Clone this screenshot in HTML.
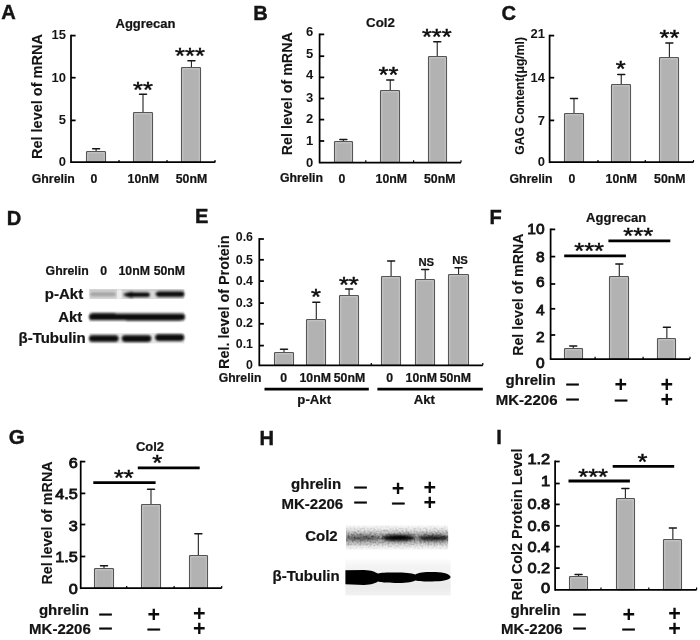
<!DOCTYPE html>
<html lang="en">
<head>
<meta charset="utf-8">
<title>Figure</title>
<style>
html,body{margin:0;padding:0;background:#fff;}
body{width:700px;height:640px;overflow:hidden;}
svg{display:block;font-family:"Liberation Sans", sans-serif;}
</style>
</head>
<body>
<svg width="700" height="640" viewBox="0 0 700 640" role="img" aria-label="Figure panels A to I">
<defs>
<filter id="b1" x="-10%" y="-30%" width="120%" height="160%"><feGaussianBlur stdDeviation="0.7"/></filter>
<filter id="b2" x="-10%" y="-50%" width="120%" height="200%"><feGaussianBlur stdDeviation="2"/></filter>
<filter id="b4" x="-10%" y="-100%" width="120%" height="300%"><feGaussianBlur stdDeviation="1.6"/></filter>
<filter id="noise" x="0" y="0" width="100%" height="100%"><feTurbulence type="fractalNoise" baseFrequency="0.5" numOctaves="2" seed="7"/><feColorMatrix type="matrix" values="0 0 0 0 0  0 0 0 0 0  0 0 0 0 0  0 0 0 1.1 -0.42"/><feGaussianBlur stdDeviation="0.45"/></filter>
<linearGradient id="gcol2" x1="0" y1="0" x2="0" y2="1"><stop offset="0" stop-color="#ffffff"/><stop offset="0.18" stop-color="#ececec"/><stop offset="0.36" stop-color="#bcbcbc"/><stop offset="0.52" stop-color="#9c9c9c"/><stop offset="0.68" stop-color="#bcbcbc"/><stop offset="0.85" stop-color="#ececec"/><stop offset="1" stop-color="#ffffff"/></linearGradient>
<linearGradient id="gmask" x1="0" y1="0" x2="0" y2="1"><stop offset="0" stop-color="#000"/><stop offset="0.5" stop-color="#fff"/><stop offset="1" stop-color="#000"/></linearGradient>
<mask id="mcol2" maskUnits="userSpaceOnUse" x="346" y="524.5" width="102.4" height="26"><rect x="346" y="524.5" width="102.4" height="26" fill="url(#gmask)"/></mask>
<linearGradient id="gtub" x1="0" y1="0" x2="0" y2="1"><stop offset="0" stop-color="#fbfbfb"/><stop offset="0.2" stop-color="#f3f3f3"/><stop offset="0.75" stop-color="#ebebeb"/><stop offset="1" stop-color="#f1f1f1"/></linearGradient>
<filter id="b3" x="-10%" y="-30%" width="120%" height="160%"><feGaussianBlur stdDeviation="0.85"/></filter>
</defs>
<rect width="700" height="640" fill="#ffffff"/>
<text x="1.30" y="18.90" font-size="20.1" font-weight="bold" text-anchor="start" fill="#141414" stroke="#141414" stroke-width="0.4">A</text>
<text x="253.30" y="19.60" font-size="20.1" font-weight="bold" text-anchor="start" fill="#141414" stroke="#141414" stroke-width="0.4">B</text>
<text x="501.50" y="19.60" font-size="20.1" font-weight="bold" text-anchor="start" fill="#141414" stroke="#141414" stroke-width="0.4">C</text>
<text x="6.70" y="224.80" font-size="20.1" font-weight="bold" text-anchor="start" fill="#141414" stroke="#141414" stroke-width="0.4">D</text>
<text x="195.10" y="223.20" font-size="20.1" font-weight="bold" text-anchor="start" fill="#141414" stroke="#141414" stroke-width="0.4">E</text>
<text x="489.40" y="224.30" font-size="20.1" font-weight="bold" text-anchor="start" fill="#141414" stroke="#141414" stroke-width="0.4">F</text>
<text x="8.70" y="443.90" font-size="20.6" font-weight="bold" text-anchor="start" fill="#141414" stroke="#141414" stroke-width="0.4">G</text>
<text x="259.50" y="444.80" font-size="20.1" font-weight="bold" text-anchor="start" fill="#141414" stroke="#141414" stroke-width="0.4">H</text>
<text x="496.30" y="444.30" font-size="20.1" font-weight="bold" text-anchor="start" fill="#141414" stroke="#141414" stroke-width="0.4">I</text>
<line x1="96.10" y1="148.80" x2="96.10" y2="151.70" stroke="#2a2a2a" stroke-width="1.15" stroke-linecap="butt"/>
<line x1="92.60" y1="148.80" x2="99.60" y2="148.80" stroke="#161616" stroke-width="1.5" stroke-linecap="round"/>
<rect x="86.50" y="151.50" width="19.00" height="10.70" rx="0.8" fill="#b2b2b2" stroke="#555555" stroke-width="1.1"/>
<path d="M87.80 161.20 V152.80 H104.20 V161.20" fill="none" stroke="#c9c9c9" stroke-width="0.9"/>
<line x1="143.00" y1="94.20" x2="143.00" y2="112.30" stroke="#2a2a2a" stroke-width="1.15" stroke-linecap="butt"/>
<line x1="139.50" y1="94.20" x2="146.50" y2="94.20" stroke="#161616" stroke-width="1.5" stroke-linecap="round"/>
<rect x="133.50" y="112.50" width="19.00" height="49.70" rx="0.8" fill="#b2b2b2" stroke="#555555" stroke-width="1.1"/>
<path d="M134.80 161.20 V113.80 H151.20 V161.20" fill="none" stroke="#c9c9c9" stroke-width="0.9"/>
<line x1="191.45" y1="60.70" x2="191.45" y2="67.40" stroke="#2a2a2a" stroke-width="1.15" stroke-linecap="butt"/>
<line x1="187.95" y1="60.70" x2="194.95" y2="60.70" stroke="#161616" stroke-width="1.5" stroke-linecap="round"/>
<rect x="181.50" y="67.50" width="19.00" height="94.70" rx="0.8" fill="#b2b2b2" stroke="#555555" stroke-width="1.1"/>
<path d="M182.80 161.20 V68.80 H199.20 V161.20" fill="none" stroke="#c9c9c9" stroke-width="0.9"/>
<line x1="71.00" y1="34.73" x2="71.00" y2="163.07" stroke="#000" stroke-width="1.75" stroke-linecap="butt"/>
<line x1="71.00" y1="162.20" x2="215.30" y2="162.20" stroke="#000" stroke-width="1.75" stroke-linecap="butt"/>
<line x1="71.00" y1="35.60" x2="75.60" y2="35.60" stroke="#000" stroke-width="1.75" stroke-linecap="butt"/>
<text x="65.90" y="38.67" font-size="13" font-weight="bold" text-anchor="end" fill="#141414" stroke="#141414" stroke-width="0.0">15</text>
<line x1="71.00" y1="77.70" x2="75.60" y2="77.70" stroke="#000" stroke-width="1.75" stroke-linecap="butt"/>
<text x="65.90" y="81.77" font-size="13" font-weight="bold" text-anchor="end" fill="#141414" stroke="#141414" stroke-width="0.0">10</text>
<line x1="71.00" y1="120.40" x2="75.60" y2="120.40" stroke="#000" stroke-width="1.75" stroke-linecap="butt"/>
<text x="65.90" y="124.27" font-size="13" font-weight="bold" text-anchor="end" fill="#141414" stroke="#141414" stroke-width="0.0">5</text>
<text x="65.90" y="166.27" font-size="13" font-weight="bold" text-anchor="end" fill="#141414" stroke="#141414" stroke-width="0.0">0</text>
<line x1="119.00" y1="162.20" x2="119.00" y2="160.00" stroke="#000" stroke-width="1.2" stroke-linecap="butt"/>
<line x1="167.00" y1="162.20" x2="167.00" y2="160.00" stroke="#000" stroke-width="1.2" stroke-linecap="butt"/>
<line x1="215.00" y1="162.20" x2="215.00" y2="160.00" stroke="#000" stroke-width="1.2" stroke-linecap="butt"/>
<text x="41.80" y="159.00" font-size="14.5" font-weight="bold" text-anchor="start" fill="#141414" stroke="#141414" stroke-width="0.1" transform="rotate(-90 41.80 159.00)">Rel level of mRNA</text>
<text x="145.50" y="28.00" font-size="13" font-weight="bold" text-anchor="middle" fill="#141414" stroke="#141414" stroke-width="0.22">Aggrecan</text>
<g transform="translate(143.00 96.65) scale(1 0.86)">
<text x="0.00" y="0.00" font-size="25.5" font-weight="normal" text-anchor="middle" fill="#0a0a0a" stroke="#0a0a0a" stroke-width="0.5">**</text>
</g>
<g transform="translate(190.00 63.05) scale(1 0.86)">
<text x="0.00" y="0.00" font-size="25.5" font-weight="normal" text-anchor="middle" fill="#0a0a0a" stroke="#0a0a0a" stroke-width="0.5">***</text>
</g>
<text x="31.80" y="182.60" font-size="12.3" font-weight="bold" text-anchor="start" fill="#141414" stroke="#141414" stroke-width="0.22">Ghrelin</text>
<text x="93.90" y="182.60" font-size="12.3" font-weight="bold" text-anchor="middle" fill="#141414" stroke="#141414" stroke-width="0.22">0</text>
<text x="143.30" y="182.60" font-size="12.3" font-weight="bold" text-anchor="middle" fill="#141414" stroke="#141414" stroke-width="0.22">10nM</text>
<text x="191.50" y="182.60" font-size="12.3" font-weight="bold" text-anchor="middle" fill="#141414" stroke="#141414" stroke-width="0.22">50nM</text>
<line x1="343.35" y1="139.50" x2="343.35" y2="141.20" stroke="#2a2a2a" stroke-width="1.15" stroke-linecap="butt"/>
<line x1="339.85" y1="139.50" x2="346.85" y2="139.50" stroke="#161616" stroke-width="1.5" stroke-linecap="round"/>
<rect x="334.50" y="141.50" width="18.00" height="21.00" rx="0.8" fill="#b2b2b2" stroke="#555555" stroke-width="1.1"/>
<path d="M335.80 161.50 V142.80 H351.20 V161.50" fill="none" stroke="#c9c9c9" stroke-width="0.9"/>
<line x1="390.25" y1="80.00" x2="390.25" y2="89.90" stroke="#2a2a2a" stroke-width="1.15" stroke-linecap="butt"/>
<line x1="386.75" y1="80.00" x2="393.75" y2="80.00" stroke="#161616" stroke-width="1.5" stroke-linecap="round"/>
<rect x="380.50" y="90.50" width="19.00" height="72.00" rx="0.8" fill="#b2b2b2" stroke="#555555" stroke-width="1.1"/>
<path d="M381.80 161.50 V91.80 H398.20 V161.50" fill="none" stroke="#c9c9c9" stroke-width="0.9"/>
<line x1="437.25" y1="41.80" x2="437.25" y2="56.40" stroke="#2a2a2a" stroke-width="1.15" stroke-linecap="butt"/>
<line x1="433.75" y1="41.80" x2="440.75" y2="41.80" stroke="#161616" stroke-width="1.5" stroke-linecap="round"/>
<rect x="428.50" y="56.50" width="18.00" height="106.00" rx="0.8" fill="#b2b2b2" stroke="#555555" stroke-width="1.1"/>
<path d="M429.80 161.50 V57.80 H445.20 V161.50" fill="none" stroke="#c9c9c9" stroke-width="0.9"/>
<line x1="319.60" y1="33.52" x2="319.60" y2="163.38" stroke="#000" stroke-width="1.75" stroke-linecap="butt"/>
<line x1="319.60" y1="162.50" x2="461.00" y2="162.50" stroke="#000" stroke-width="1.75" stroke-linecap="butt"/>
<line x1="319.60" y1="34.40" x2="324.20" y2="34.40" stroke="#000" stroke-width="1.75" stroke-linecap="butt"/>
<text x="313.30" y="35.87" font-size="13" font-weight="bold" text-anchor="end" fill="#141414" stroke="#141414" stroke-width="0.0">6</text>
<line x1="319.60" y1="56.20" x2="324.20" y2="56.20" stroke="#000" stroke-width="1.75" stroke-linecap="butt"/>
<text x="313.30" y="58.07" font-size="13" font-weight="bold" text-anchor="end" fill="#141414" stroke="#141414" stroke-width="0.0">5</text>
<line x1="319.60" y1="77.40" x2="324.20" y2="77.40" stroke="#000" stroke-width="1.75" stroke-linecap="butt"/>
<text x="313.30" y="79.47" font-size="13" font-weight="bold" text-anchor="end" fill="#141414" stroke="#141414" stroke-width="0.0">4</text>
<line x1="319.60" y1="98.50" x2="324.20" y2="98.50" stroke="#000" stroke-width="1.75" stroke-linecap="butt"/>
<text x="313.30" y="101.77" font-size="13" font-weight="bold" text-anchor="end" fill="#141414" stroke="#141414" stroke-width="0.0">3</text>
<line x1="319.60" y1="119.60" x2="324.20" y2="119.60" stroke="#000" stroke-width="1.75" stroke-linecap="butt"/>
<text x="313.30" y="123.47" font-size="13" font-weight="bold" text-anchor="end" fill="#141414" stroke="#141414" stroke-width="0.0">2</text>
<line x1="319.60" y1="141.00" x2="324.20" y2="141.00" stroke="#000" stroke-width="1.75" stroke-linecap="butt"/>
<text x="313.30" y="145.47" font-size="13" font-weight="bold" text-anchor="end" fill="#141414" stroke="#141414" stroke-width="0.0">1</text>
<text x="313.30" y="166.97" font-size="13" font-weight="bold" text-anchor="end" fill="#141414" stroke="#141414" stroke-width="0.0">0</text>
<line x1="365.80" y1="162.50" x2="365.80" y2="160.30" stroke="#000" stroke-width="1.2" stroke-linecap="butt"/>
<line x1="413.60" y1="162.50" x2="413.60" y2="160.30" stroke="#000" stroke-width="1.2" stroke-linecap="butt"/>
<line x1="461.00" y1="162.50" x2="461.00" y2="160.30" stroke="#000" stroke-width="1.2" stroke-linecap="butt"/>
<text x="292.20" y="155.30" font-size="14.3" font-weight="bold" text-anchor="start" fill="#141414" stroke="#141414" stroke-width="0.1" transform="rotate(-90 292.20 155.30)">Rel level of mRNA</text>
<text x="380.50" y="27.20" font-size="13.3" font-weight="bold" text-anchor="middle" fill="#141414" stroke="#141414" stroke-width="0.22">Col2</text>
<g transform="translate(388.40 82.05) scale(1 0.86)">
<text x="0.00" y="0.00" font-size="25.5" font-weight="normal" text-anchor="middle" fill="#0a0a0a" stroke="#0a0a0a" stroke-width="0.5">**</text>
</g>
<g transform="translate(436.80 43.95) scale(1 0.86)">
<text x="0.00" y="0.00" font-size="25.5" font-weight="normal" text-anchor="middle" fill="#0a0a0a" stroke="#0a0a0a" stroke-width="0.5">***</text>
</g>
<text x="280.00" y="182.40" font-size="12.3" font-weight="bold" text-anchor="start" fill="#141414" stroke="#141414" stroke-width="0.22">Ghrelin</text>
<text x="341.80" y="182.60" font-size="12.3" font-weight="bold" text-anchor="middle" fill="#141414" stroke="#141414" stroke-width="0.22">0</text>
<text x="391.30" y="182.60" font-size="12.3" font-weight="bold" text-anchor="middle" fill="#141414" stroke="#141414" stroke-width="0.22">10nM</text>
<text x="439.70" y="182.60" font-size="12.3" font-weight="bold" text-anchor="middle" fill="#141414" stroke="#141414" stroke-width="0.22">50nM</text>
<line x1="574.00" y1="98.60" x2="574.00" y2="112.90" stroke="#2a2a2a" stroke-width="1.15" stroke-linecap="butt"/>
<line x1="570.50" y1="98.60" x2="577.50" y2="98.60" stroke="#161616" stroke-width="1.5" stroke-linecap="round"/>
<rect x="564.50" y="113.50" width="19.00" height="48.70" rx="0.8" fill="#b2b2b2" stroke="#555555" stroke-width="1.1"/>
<path d="M565.80 161.20 V114.80 H582.20 V161.20" fill="none" stroke="#c9c9c9" stroke-width="0.9"/>
<line x1="621.25" y1="74.40" x2="621.25" y2="83.90" stroke="#2a2a2a" stroke-width="1.15" stroke-linecap="butt"/>
<line x1="617.75" y1="74.40" x2="624.75" y2="74.40" stroke="#161616" stroke-width="1.5" stroke-linecap="round"/>
<rect x="611.50" y="84.50" width="19.00" height="77.70" rx="0.8" fill="#b2b2b2" stroke="#555555" stroke-width="1.1"/>
<path d="M612.80 161.20 V85.80 H629.20 V161.20" fill="none" stroke="#c9c9c9" stroke-width="0.9"/>
<line x1="669.40" y1="43.00" x2="669.40" y2="57.60" stroke="#2a2a2a" stroke-width="1.15" stroke-linecap="butt"/>
<line x1="665.90" y1="43.00" x2="672.90" y2="43.00" stroke="#161616" stroke-width="1.5" stroke-linecap="round"/>
<rect x="659.50" y="57.50" width="19.00" height="104.70" rx="0.8" fill="#b2b2b2" stroke="#555555" stroke-width="1.1"/>
<path d="M660.80 161.20 V58.80 H677.20 V161.20" fill="none" stroke="#c9c9c9" stroke-width="0.9"/>
<line x1="549.60" y1="34.73" x2="549.60" y2="163.07" stroke="#000" stroke-width="1.75" stroke-linecap="butt"/>
<line x1="549.60" y1="162.20" x2="693.50" y2="162.20" stroke="#000" stroke-width="1.75" stroke-linecap="butt"/>
<line x1="549.60" y1="35.60" x2="554.20" y2="35.60" stroke="#000" stroke-width="1.75" stroke-linecap="butt"/>
<text x="544.90" y="38.47" font-size="13" font-weight="bold" text-anchor="end" fill="#141414" stroke="#141414" stroke-width="0.0">21</text>
<line x1="549.60" y1="77.70" x2="554.20" y2="77.70" stroke="#000" stroke-width="1.75" stroke-linecap="butt"/>
<text x="544.90" y="81.77" font-size="13" font-weight="bold" text-anchor="end" fill="#141414" stroke="#141414" stroke-width="0.0">14</text>
<line x1="549.60" y1="120.40" x2="554.20" y2="120.40" stroke="#000" stroke-width="1.75" stroke-linecap="butt"/>
<text x="544.90" y="124.77" font-size="13" font-weight="bold" text-anchor="end" fill="#141414" stroke="#141414" stroke-width="0.0">7</text>
<text x="544.90" y="166.37" font-size="13" font-weight="bold" text-anchor="end" fill="#141414" stroke="#141414" stroke-width="0.0">0</text>
<line x1="598.00" y1="162.20" x2="598.00" y2="160.00" stroke="#000" stroke-width="1.2" stroke-linecap="butt"/>
<line x1="645.30" y1="162.20" x2="645.30" y2="160.00" stroke="#000" stroke-width="1.2" stroke-linecap="butt"/>
<line x1="693.50" y1="162.20" x2="693.50" y2="160.00" stroke="#000" stroke-width="1.2" stroke-linecap="butt"/>
<text x="524.40" y="154.80" font-size="12.2" font-weight="bold" text-anchor="start" fill="#141414" stroke="#141414" stroke-width="0.1" transform="rotate(-90 524.40 154.80)">GAG Content(μg/ml)</text>
<g transform="translate(620.70 75.75) scale(1 0.86)">
<text x="0.00" y="0.00" font-size="25.5" font-weight="normal" text-anchor="middle" fill="#0a0a0a" stroke="#0a0a0a" stroke-width="0.5">*</text>
</g>
<g transform="translate(669.40 44.85) scale(1 0.86)">
<text x="0.00" y="0.00" font-size="25.5" font-weight="normal" text-anchor="middle" fill="#0a0a0a" stroke="#0a0a0a" stroke-width="0.5">**</text>
</g>
<text x="509.50" y="182.60" font-size="12.3" font-weight="bold" text-anchor="start" fill="#141414" stroke="#141414" stroke-width="0.22">Ghrelin</text>
<text x="571.80" y="182.60" font-size="12.3" font-weight="bold" text-anchor="middle" fill="#141414" stroke="#141414" stroke-width="0.22">0</text>
<text x="621.30" y="182.60" font-size="12.3" font-weight="bold" text-anchor="middle" fill="#141414" stroke="#141414" stroke-width="0.22">10nM</text>
<text x="669.80" y="182.60" font-size="12.3" font-weight="bold" text-anchor="middle" fill="#141414" stroke="#141414" stroke-width="0.22">50nM</text>
<text x="45.60" y="274.80" font-size="12.3" font-weight="bold" text-anchor="start" fill="#141414" stroke="#141414" stroke-width="0.22">Ghrelin</text>
<text x="103.70" y="274.80" font-size="12.3" font-weight="bold" text-anchor="middle" fill="#141414" stroke="#141414" stroke-width="0.22">0</text>
<text x="134.20" y="274.80" font-size="12.3" font-weight="bold" text-anchor="middle" fill="#141414" stroke="#141414" stroke-width="0.22">10nM</text>
<text x="169.40" y="274.80" font-size="12.3" font-weight="bold" text-anchor="middle" fill="#141414" stroke="#141414" stroke-width="0.22">50nM</text>
<text x="83.20" y="298.60" font-size="15" font-weight="bold" text-anchor="end" fill="#141414" stroke="#141414" stroke-width="0.22">p-Akt</text>
<text x="82.30" y="321.70" font-size="15" font-weight="bold" text-anchor="end" fill="#141414" stroke="#141414" stroke-width="0.22">Akt</text>
<text x="85.70" y="343.40" font-size="15" font-weight="bold" text-anchor="end" fill="#141414" stroke="#141414" stroke-width="0.22">β-Tubulin</text>
<g filter="url(#b1)">
<rect x="89.3" y="289.6" width="95" height="9.4" fill="#d8d8d8"/>
<rect x="89.3" y="289.4" width="95" height="1.2" fill="#c4c4c4"/>
<rect x="117.0" y="289.6" width="4.6" height="9.4" fill="#ededed"/>
<rect x="89.3" y="311.6" width="95" height="10.4" fill="#e6e6e6"/>
<rect x="89.3" y="333.2" width="95" height="10.2" fill="#e6e6e6"/>
</g>
<g filter="url(#b3)">
<rect x="90.00" y="292.00" width="26.00" height="4.60" rx="2.30" ry="2.30" fill="#a6a6a6" opacity="1.0"/>
<rect x="123.60" y="292.70" width="26.40" height="3.80" rx="1.90" ry="1.90" fill="#3a3a3a" opacity="1.0"/>
<rect x="126.00" y="292.50" width="23.60" height="4.40" rx="2.20" ry="2.20" fill="#080808" opacity="1.0"/>
<rect x="128.50" y="291.70" width="5.50" height="6.00" rx="3.00" ry="3.00" fill="#080808" opacity="1.0"/>
<rect x="155.50" y="291.80" width="29.00" height="4.60" rx="2.30" ry="2.30" fill="#2a2a2a" opacity="1.0"/>
<rect x="157.00" y="291.60" width="27.00" height="5.20" rx="2.60" ry="2.60" fill="#080808" opacity="1.0"/>
<rect x="89.00" y="313.80" width="96.00" height="6.20" rx="3.10" ry="3.10" fill="#080808" opacity="1.0"/>
<rect x="90.00" y="313.20" width="27.00" height="6.80" rx="3.40" ry="3.40" fill="#080808" opacity="1.0"/>
<rect x="124.00" y="313.90" width="59.00" height="6.60" rx="3.30" ry="3.30" fill="#080808" opacity="1.0"/>
<rect x="89.00" y="335.20" width="29.60" height="6.60" rx="3.30" ry="3.30" fill="#080808" opacity="1.0"/>
<rect x="121.80" y="335.30" width="29.50" height="6.60" rx="3.30" ry="3.30" fill="#080808" opacity="1.0"/>
<rect x="155.20" y="334.30" width="29.00" height="6.60" rx="3.30" ry="3.30" fill="#080808" opacity="1.0"/>
</g>
<line x1="284.00" y1="349.30" x2="284.00" y2="352.10" stroke="#2a2a2a" stroke-width="1.15" stroke-linecap="butt"/>
<line x1="280.50" y1="349.30" x2="287.50" y2="349.30" stroke="#161616" stroke-width="1.5" stroke-linecap="round"/>
<rect x="274.50" y="352.50" width="19.00" height="12.80" rx="0.8" fill="#b2b2b2" stroke="#555555" stroke-width="1.1"/>
<path d="M275.80 364.30 V353.80 H292.20 V364.30" fill="none" stroke="#c9c9c9" stroke-width="0.9"/>
<line x1="316.30" y1="302.20" x2="316.30" y2="319.70" stroke="#2a2a2a" stroke-width="1.15" stroke-linecap="butt"/>
<line x1="312.80" y1="302.20" x2="319.80" y2="302.20" stroke="#161616" stroke-width="1.5" stroke-linecap="round"/>
<rect x="306.50" y="319.50" width="19.00" height="45.80" rx="0.8" fill="#b2b2b2" stroke="#555555" stroke-width="1.1"/>
<path d="M307.80 364.30 V320.80 H324.20 V364.30" fill="none" stroke="#c9c9c9" stroke-width="0.9"/>
<line x1="349.10" y1="289.10" x2="349.10" y2="295.60" stroke="#2a2a2a" stroke-width="1.15" stroke-linecap="butt"/>
<line x1="345.60" y1="289.10" x2="352.60" y2="289.10" stroke="#161616" stroke-width="1.5" stroke-linecap="round"/>
<rect x="339.50" y="295.50" width="19.00" height="69.80" rx="0.8" fill="#b2b2b2" stroke="#555555" stroke-width="1.1"/>
<path d="M340.80 364.30 V296.80 H357.20 V364.30" fill="none" stroke="#c9c9c9" stroke-width="0.9"/>
<line x1="391.10" y1="260.90" x2="391.10" y2="275.90" stroke="#2a2a2a" stroke-width="1.15" stroke-linecap="butt"/>
<line x1="387.60" y1="260.90" x2="394.60" y2="260.90" stroke="#161616" stroke-width="1.5" stroke-linecap="round"/>
<rect x="381.50" y="276.50" width="19.00" height="88.80" rx="0.8" fill="#b2b2b2" stroke="#555555" stroke-width="1.1"/>
<path d="M382.80 364.30 V277.80 H399.20 V364.30" fill="none" stroke="#c9c9c9" stroke-width="0.9"/>
<line x1="425.20" y1="269.50" x2="425.20" y2="279.00" stroke="#2a2a2a" stroke-width="1.15" stroke-linecap="butt"/>
<line x1="421.70" y1="269.50" x2="428.70" y2="269.50" stroke="#161616" stroke-width="1.5" stroke-linecap="round"/>
<rect x="415.50" y="279.50" width="19.00" height="85.80" rx="0.8" fill="#b2b2b2" stroke="#555555" stroke-width="1.1"/>
<path d="M416.80 364.30 V280.80 H433.20 V364.30" fill="none" stroke="#c9c9c9" stroke-width="0.9"/>
<line x1="458.55" y1="267.80" x2="458.55" y2="274.70" stroke="#2a2a2a" stroke-width="1.15" stroke-linecap="butt"/>
<line x1="455.05" y1="267.80" x2="462.05" y2="267.80" stroke="#161616" stroke-width="1.5" stroke-linecap="round"/>
<rect x="448.50" y="274.50" width="20.00" height="90.80" rx="0.8" fill="#b2b2b2" stroke="#555555" stroke-width="1.1"/>
<path d="M449.80 364.30 V275.80 H467.20 V364.30" fill="none" stroke="#c9c9c9" stroke-width="0.9"/>
<line x1="259.30" y1="238.12" x2="259.30" y2="366.18" stroke="#000" stroke-width="1.75" stroke-linecap="butt"/>
<line x1="259.30" y1="365.30" x2="482.80" y2="365.30" stroke="#000" stroke-width="1.75" stroke-linecap="butt"/>
<line x1="259.30" y1="239.00" x2="263.90" y2="239.00" stroke="#000" stroke-width="1.75" stroke-linecap="butt"/>
<text x="253.00" y="241.27" font-size="12.4" font-weight="bold" text-anchor="end" fill="#141414" stroke="#141414" stroke-width="0.0">0.6</text>
<line x1="259.30" y1="259.80" x2="263.90" y2="259.80" stroke="#000" stroke-width="1.75" stroke-linecap="butt"/>
<text x="253.00" y="264.27" font-size="12.4" font-weight="bold" text-anchor="end" fill="#141414" stroke="#141414" stroke-width="0.0">0.5</text>
<line x1="259.30" y1="281.10" x2="263.90" y2="281.10" stroke="#000" stroke-width="1.75" stroke-linecap="butt"/>
<text x="253.00" y="285.27" font-size="12.4" font-weight="bold" text-anchor="end" fill="#141414" stroke="#141414" stroke-width="0.0">0.4</text>
<line x1="259.30" y1="303.10" x2="263.90" y2="303.10" stroke="#000" stroke-width="1.75" stroke-linecap="butt"/>
<text x="253.00" y="306.77" font-size="12.4" font-weight="bold" text-anchor="end" fill="#141414" stroke="#141414" stroke-width="0.0">0.3</text>
<line x1="259.30" y1="323.80" x2="263.90" y2="323.80" stroke="#000" stroke-width="1.75" stroke-linecap="butt"/>
<text x="253.00" y="327.17" font-size="12.4" font-weight="bold" text-anchor="end" fill="#141414" stroke="#141414" stroke-width="0.0">0.2</text>
<line x1="259.30" y1="345.60" x2="263.90" y2="345.60" stroke="#000" stroke-width="1.75" stroke-linecap="butt"/>
<text x="253.00" y="348.27" font-size="12.4" font-weight="bold" text-anchor="end" fill="#141414" stroke="#141414" stroke-width="0.0">0.1</text>
<text x="253.00" y="368.77" font-size="12.4" font-weight="bold" text-anchor="end" fill="#141414" stroke="#141414" stroke-width="0.0">0</text>
<line x1="371.30" y1="365.30" x2="371.30" y2="363.10" stroke="#000" stroke-width="1.2" stroke-linecap="butt"/>
<line x1="482.80" y1="365.30" x2="482.80" y2="363.10" stroke="#000" stroke-width="1.2" stroke-linecap="butt"/>
<text x="228.60" y="369.00" font-size="14.4" font-weight="bold" text-anchor="start" fill="#141414" stroke="#141414" stroke-width="0.1" transform="rotate(-90 228.60 369.00)">Rel. level of Protein</text>
<g transform="translate(315.90 303.95) scale(1 0.86)">
<text x="0.00" y="0.00" font-size="25.5" font-weight="normal" text-anchor="middle" fill="#0a0a0a" stroke="#0a0a0a" stroke-width="0.5">*</text>
</g>
<g transform="translate(348.80 292.35) scale(1 0.86)">
<text x="0.00" y="0.00" font-size="25.5" font-weight="normal" text-anchor="middle" fill="#0a0a0a" stroke="#0a0a0a" stroke-width="0.5">**</text>
</g>
<text x="426.30" y="266.10" font-size="11.3" font-weight="bold" text-anchor="middle" fill="#141414" stroke="#141414" stroke-width="0.22">NS</text>
<text x="460.00" y="264.40" font-size="11.3" font-weight="bold" text-anchor="middle" fill="#141414" stroke="#141414" stroke-width="0.22">NS</text>
<text x="218.70" y="381.50" font-size="12.2" font-weight="bold" text-anchor="start" fill="#141414" stroke="#141414" stroke-width="0.22">Ghrelin</text>
<text x="283.70" y="381.60" font-size="12.3" font-weight="bold" text-anchor="middle" fill="#141414" stroke="#141414" stroke-width="0.22">0</text>
<text x="315.20" y="381.60" font-size="12.3" font-weight="bold" text-anchor="middle" fill="#141414" stroke="#141414" stroke-width="0.22">10nM</text>
<text x="349.50" y="381.60" font-size="12.3" font-weight="bold" text-anchor="middle" fill="#141414" stroke="#141414" stroke-width="0.22">50nM</text>
<text x="389.70" y="381.60" font-size="12.3" font-weight="bold" text-anchor="middle" fill="#141414" stroke="#141414" stroke-width="0.22">0</text>
<text x="421.30" y="381.60" font-size="12.3" font-weight="bold" text-anchor="middle" fill="#141414" stroke="#141414" stroke-width="0.22">10nM</text>
<text x="455.40" y="381.60" font-size="12.3" font-weight="bold" text-anchor="middle" fill="#141414" stroke="#141414" stroke-width="0.22">50nM</text>
<line x1="264.50" y1="389.20" x2="368.80" y2="389.20" stroke="#000" stroke-width="2.7" stroke-linecap="butt"/>
<line x1="377.40" y1="389.20" x2="482.80" y2="389.20" stroke="#000" stroke-width="2.7" stroke-linecap="butt"/>
<text x="314.20" y="403.70" font-size="13.2" font-weight="bold" text-anchor="middle" fill="#141414" stroke="#141414" stroke-width="0.22">p-Akt</text>
<text x="424.30" y="403.70" font-size="13.2" font-weight="bold" text-anchor="middle" fill="#141414" stroke="#141414" stroke-width="0.22">Akt</text>
<line x1="573.25" y1="346.10" x2="573.25" y2="348.20" stroke="#2a2a2a" stroke-width="1.15" stroke-linecap="butt"/>
<line x1="569.75" y1="346.10" x2="576.75" y2="346.10" stroke="#161616" stroke-width="1.5" stroke-linecap="round"/>
<rect x="564.50" y="348.50" width="18.00" height="10.50" rx="0.8" fill="#b2b2b2" stroke="#555555" stroke-width="1.1"/>
<path d="M565.80 358.00 V349.80 H581.20 V358.00" fill="none" stroke="#c9c9c9" stroke-width="0.9"/>
<line x1="619.30" y1="264.00" x2="619.30" y2="276.20" stroke="#2a2a2a" stroke-width="1.15" stroke-linecap="butt"/>
<line x1="615.80" y1="264.00" x2="622.80" y2="264.00" stroke="#161616" stroke-width="1.5" stroke-linecap="round"/>
<rect x="609.50" y="276.50" width="19.00" height="82.50" rx="0.8" fill="#b2b2b2" stroke="#555555" stroke-width="1.1"/>
<path d="M610.80 358.00 V277.80 H627.20 V358.00" fill="none" stroke="#c9c9c9" stroke-width="0.9"/>
<line x1="666.85" y1="327.20" x2="666.85" y2="338.70" stroke="#2a2a2a" stroke-width="1.15" stroke-linecap="butt"/>
<line x1="663.35" y1="327.20" x2="670.35" y2="327.20" stroke="#161616" stroke-width="1.5" stroke-linecap="round"/>
<rect x="657.50" y="338.50" width="18.00" height="20.50" rx="0.8" fill="#b2b2b2" stroke="#555555" stroke-width="1.1"/>
<path d="M658.80 358.00 V339.80 H674.20 V358.00" fill="none" stroke="#c9c9c9" stroke-width="0.9"/>
<line x1="550.60" y1="228.53" x2="550.60" y2="359.88" stroke="#000" stroke-width="1.75" stroke-linecap="butt"/>
<line x1="550.60" y1="359.00" x2="690.00" y2="359.00" stroke="#000" stroke-width="1.75" stroke-linecap="butt"/>
<line x1="550.60" y1="229.40" x2="555.20" y2="229.40" stroke="#000" stroke-width="1.75" stroke-linecap="butt"/>
<text x="544.60" y="234.33" font-size="15.5" font-weight="normal" text-anchor="end" fill="#141414" stroke="#141414" stroke-width="0.9">10</text>
<line x1="550.60" y1="256.60" x2="555.20" y2="256.60" stroke="#000" stroke-width="1.75" stroke-linecap="butt"/>
<text x="544.60" y="261.63" font-size="15.5" font-weight="normal" text-anchor="end" fill="#141414" stroke="#141414" stroke-width="0.9">8</text>
<line x1="550.60" y1="284.00" x2="555.20" y2="284.00" stroke="#000" stroke-width="1.75" stroke-linecap="butt"/>
<text x="544.60" y="287.23" font-size="15.5" font-weight="normal" text-anchor="end" fill="#141414" stroke="#141414" stroke-width="0.9">6</text>
<line x1="550.60" y1="308.80" x2="555.20" y2="308.80" stroke="#000" stroke-width="1.75" stroke-linecap="butt"/>
<text x="544.60" y="314.93" font-size="15.5" font-weight="normal" text-anchor="end" fill="#141414" stroke="#141414" stroke-width="0.9">4</text>
<line x1="550.60" y1="335.00" x2="555.20" y2="335.00" stroke="#000" stroke-width="1.75" stroke-linecap="butt"/>
<text x="544.60" y="341.83" font-size="15.5" font-weight="normal" text-anchor="end" fill="#141414" stroke="#141414" stroke-width="0.9">2</text>
<text x="544.60" y="368.23" font-size="15.5" font-weight="normal" text-anchor="end" fill="#141414" stroke="#141414" stroke-width="0.9">0</text>
<line x1="595.10" y1="359.00" x2="595.10" y2="356.80" stroke="#000" stroke-width="1.2" stroke-linecap="butt"/>
<line x1="643.10" y1="359.00" x2="643.10" y2="356.80" stroke="#000" stroke-width="1.2" stroke-linecap="butt"/>
<line x1="690.00" y1="359.00" x2="690.00" y2="356.80" stroke="#000" stroke-width="1.2" stroke-linecap="butt"/>
<text x="523.00" y="355.80" font-size="14.2" font-weight="bold" text-anchor="start" fill="#141414" stroke="#141414" stroke-width="0.1" transform="rotate(-90 523.00 355.80)">Rel level of mRNA</text>
<text x="616.10" y="222.30" font-size="13" font-weight="bold" text-anchor="middle" fill="#141414" stroke="#141414" stroke-width="0.22">Aggrecan</text>
<line x1="564.20" y1="255.90" x2="625.90" y2="255.90" stroke="#000" stroke-width="2.8" stroke-linecap="butt"/>
<line x1="608.40" y1="240.90" x2="670.30" y2="240.90" stroke="#000" stroke-width="2.8" stroke-linecap="butt"/>
<g transform="translate(589.10 258.15) scale(1 0.86)">
<text x="0.00" y="0.00" font-size="25.5" font-weight="normal" text-anchor="middle" fill="#0a0a0a" stroke="#0a0a0a" stroke-width="0.5">***</text>
</g>
<g transform="translate(638.20 243.45) scale(1 0.86)">
<text x="0.00" y="0.00" font-size="25.5" font-weight="normal" text-anchor="middle" fill="#0a0a0a" stroke="#0a0a0a" stroke-width="0.5">***</text>
</g>
<text x="555.60" y="385.10" font-size="15" font-weight="bold" text-anchor="end" fill="#141414" stroke="#141414" stroke-width="0.22">ghrelin</text>
<text x="557.50" y="405.00" font-size="15" font-weight="bold" text-anchor="end" fill="#141414" stroke="#141414" stroke-width="0.22">MK-2206</text>
<text x="572.60" y="387.74" font-size="12.1" font-weight="bold" text-anchor="middle" fill="#0a0a0a" stroke="#0a0a0a" stroke-width="0.65">—</text>
<text x="572.60" y="402.84" font-size="12.1" font-weight="bold" text-anchor="middle" fill="#0a0a0a" stroke="#0a0a0a" stroke-width="0.65">—</text>
<text x="620.90" y="392.28" font-size="21.5" font-weight="bold" text-anchor="middle" fill="#0a0a0a" stroke="#0a0a0a" stroke-width="0">+</text>
<text x="621.10" y="403.74" font-size="12.1" font-weight="bold" text-anchor="middle" fill="#0a0a0a" stroke="#0a0a0a" stroke-width="0.65">—</text>
<text x="666.80" y="391.58" font-size="21.5" font-weight="bold" text-anchor="middle" fill="#0a0a0a" stroke="#0a0a0a" stroke-width="0">+</text>
<text x="666.80" y="406.88" font-size="21.5" font-weight="bold" text-anchor="middle" fill="#0a0a0a" stroke="#0a0a0a" stroke-width="0">+</text>
<line x1="104.00" y1="565.80" x2="104.00" y2="568.70" stroke="#2a2a2a" stroke-width="1.15" stroke-linecap="butt"/>
<line x1="100.50" y1="565.80" x2="107.50" y2="565.80" stroke="#161616" stroke-width="1.5" stroke-linecap="round"/>
<rect x="94.50" y="568.50" width="19.00" height="19.70" rx="0.8" fill="#b2b2b2" stroke="#555555" stroke-width="1.1"/>
<path d="M95.80 587.20 V569.80 H112.20 V587.20" fill="none" stroke="#c9c9c9" stroke-width="0.9"/>
<line x1="151.00" y1="489.30" x2="151.00" y2="504.20" stroke="#2a2a2a" stroke-width="1.15" stroke-linecap="butt"/>
<line x1="147.50" y1="489.30" x2="154.50" y2="489.30" stroke="#161616" stroke-width="1.5" stroke-linecap="round"/>
<rect x="141.50" y="504.50" width="19.00" height="83.70" rx="0.8" fill="#b2b2b2" stroke="#555555" stroke-width="1.1"/>
<path d="M142.80 587.20 V505.80 H159.20 V587.20" fill="none" stroke="#c9c9c9" stroke-width="0.9"/>
<line x1="198.35" y1="533.80" x2="198.35" y2="555.80" stroke="#2a2a2a" stroke-width="1.15" stroke-linecap="butt"/>
<line x1="194.85" y1="533.80" x2="201.85" y2="533.80" stroke="#161616" stroke-width="1.5" stroke-linecap="round"/>
<rect x="189.50" y="555.50" width="18.00" height="32.70" rx="0.8" fill="#b2b2b2" stroke="#555555" stroke-width="1.1"/>
<path d="M190.80 587.20 V556.80 H206.20 V587.20" fill="none" stroke="#c9c9c9" stroke-width="0.9"/>
<line x1="80.70" y1="460.73" x2="80.70" y2="589.08" stroke="#000" stroke-width="1.75" stroke-linecap="butt"/>
<line x1="80.70" y1="588.20" x2="221.70" y2="588.20" stroke="#000" stroke-width="1.75" stroke-linecap="butt"/>
<line x1="80.70" y1="461.60" x2="85.30" y2="461.60" stroke="#000" stroke-width="1.75" stroke-linecap="butt"/>
<g transform="translate(77.70 467.80) scale(1.055 1)">
<text x="0.00" y="0.00" font-size="15.4" font-weight="normal" text-anchor="end" fill="#141414" stroke="#141414" stroke-width="0.9">6</text>
</g>
<line x1="80.70" y1="493.40" x2="85.30" y2="493.40" stroke="#000" stroke-width="1.75" stroke-linecap="butt"/>
<g transform="translate(77.70 499.40) scale(1.055 1)">
<text x="0.00" y="0.00" font-size="15.4" font-weight="normal" text-anchor="end" fill="#141414" stroke="#141414" stroke-width="0.9">4.5</text>
</g>
<line x1="80.70" y1="524.50" x2="85.30" y2="524.50" stroke="#000" stroke-width="1.75" stroke-linecap="butt"/>
<g transform="translate(77.70 531.20) scale(1.055 1)">
<text x="0.00" y="0.00" font-size="15.4" font-weight="normal" text-anchor="end" fill="#141414" stroke="#141414" stroke-width="0.9">3</text>
</g>
<line x1="80.70" y1="556.50" x2="85.30" y2="556.50" stroke="#000" stroke-width="1.75" stroke-linecap="butt"/>
<g transform="translate(77.70 562.20) scale(1.055 1)">
<text x="0.00" y="0.00" font-size="15.4" font-weight="normal" text-anchor="end" fill="#141414" stroke="#141414" stroke-width="0.9">1.5</text>
</g>
<g transform="translate(77.70 594.00) scale(1.055 1)">
<text x="0.00" y="0.00" font-size="15.4" font-weight="normal" text-anchor="end" fill="#141414" stroke="#141414" stroke-width="0.9">0</text>
</g>
<line x1="126.70" y1="588.20" x2="126.70" y2="586.00" stroke="#000" stroke-width="1.2" stroke-linecap="butt"/>
<line x1="174.10" y1="588.20" x2="174.10" y2="586.00" stroke="#000" stroke-width="1.2" stroke-linecap="butt"/>
<line x1="221.70" y1="588.20" x2="221.70" y2="586.00" stroke="#000" stroke-width="1.2" stroke-linecap="butt"/>
<text x="51.80" y="584.60" font-size="14.3" font-weight="bold" text-anchor="start" fill="#141414" stroke="#141414" stroke-width="0.1" transform="rotate(-90 51.80 584.60)">Rel level of mRNA</text>
<text x="150.00" y="451.00" font-size="13" font-weight="bold" text-anchor="middle" fill="#141414" stroke="#141414" stroke-width="0.22">Col2</text>
<line x1="93.30" y1="482.70" x2="155.60" y2="482.70" stroke="#000" stroke-width="2.8" stroke-linecap="butt"/>
<line x1="137.80" y1="467.80" x2="199.70" y2="467.80" stroke="#000" stroke-width="2.8" stroke-linecap="butt"/>
<g transform="translate(123.80 485.25) scale(1 0.86)">
<text x="0.00" y="0.00" font-size="25.5" font-weight="normal" text-anchor="middle" fill="#0a0a0a" stroke="#0a0a0a" stroke-width="0.5">**</text>
</g>
<g transform="translate(157.30 470.45) scale(1 0.86)">
<text x="0.00" y="0.00" font-size="25.5" font-weight="normal" text-anchor="middle" fill="#0a0a0a" stroke="#0a0a0a" stroke-width="0.5">*</text>
</g>
<text x="88.90" y="614.60" font-size="15" font-weight="bold" text-anchor="end" fill="#141414" stroke="#141414" stroke-width="0.22">ghrelin</text>
<text x="90.80" y="634.30" font-size="15" font-weight="bold" text-anchor="end" fill="#141414" stroke="#141414" stroke-width="0.22">MK-2206</text>
<text x="105.50" y="617.54" font-size="12.1" font-weight="bold" text-anchor="middle" fill="#0a0a0a" stroke="#0a0a0a" stroke-width="0.65">—</text>
<text x="105.50" y="632.34" font-size="12.1" font-weight="bold" text-anchor="middle" fill="#0a0a0a" stroke="#0a0a0a" stroke-width="0.65">—</text>
<text x="153.80" y="621.78" font-size="21.5" font-weight="bold" text-anchor="middle" fill="#0a0a0a" stroke="#0a0a0a" stroke-width="0">+</text>
<text x="153.80" y="633.24" font-size="12.1" font-weight="bold" text-anchor="middle" fill="#0a0a0a" stroke="#0a0a0a" stroke-width="0.65">—</text>
<text x="199.40" y="621.38" font-size="21.5" font-weight="bold" text-anchor="middle" fill="#0a0a0a" stroke="#0a0a0a" stroke-width="0">+</text>
<text x="199.40" y="636.38" font-size="21.5" font-weight="bold" text-anchor="middle" fill="#0a0a0a" stroke="#0a0a0a" stroke-width="0">+</text>
<text x="341.10" y="488.60" font-size="15" font-weight="bold" text-anchor="end" fill="#141414" stroke="#141414" stroke-width="0.22">ghrelin</text>
<text x="343.20" y="508.50" font-size="15" font-weight="bold" text-anchor="end" fill="#141414" stroke="#141414" stroke-width="0.22">MK-2206</text>
<text x="360.50" y="490.84" font-size="12.1" font-weight="bold" text-anchor="middle" fill="#0a0a0a" stroke="#0a0a0a" stroke-width="0.65">—</text>
<text x="360.50" y="505.94" font-size="12.1" font-weight="bold" text-anchor="middle" fill="#0a0a0a" stroke="#0a0a0a" stroke-width="0.65">—</text>
<text x="398.00" y="495.78" font-size="21.5" font-weight="bold" text-anchor="middle" fill="#0a0a0a" stroke="#0a0a0a" stroke-width="0">+</text>
<text x="398.20" y="507.04" font-size="12.1" font-weight="bold" text-anchor="middle" fill="#0a0a0a" stroke="#0a0a0a" stroke-width="0.65">—</text>
<text x="429.90" y="495.18" font-size="21.5" font-weight="bold" text-anchor="middle" fill="#0a0a0a" stroke="#0a0a0a" stroke-width="0">+</text>
<text x="429.90" y="510.48" font-size="21.5" font-weight="bold" text-anchor="middle" fill="#0a0a0a" stroke="#0a0a0a" stroke-width="0">+</text>
<text x="337.70" y="540.60" font-size="15" font-weight="bold" text-anchor="end" fill="#141414" stroke="#141414" stroke-width="0.22">Col2</text>
<text x="339.70" y="580.50" font-size="15" font-weight="bold" text-anchor="end" fill="#141414" stroke="#141414" stroke-width="0.22">β-Tubulin</text>
<rect x="346" y="524.5" width="102.4" height="26" fill="url(#gcol2)"/>
<g filter="url(#b4)">
<ellipse cx="363" cy="538.0" rx="17" ry="2.6" fill="#555" opacity="0.8"/>
<ellipse cx="398.5" cy="537.8" rx="16.5" ry="3.0" fill="#000" opacity="0.95"/>
<ellipse cx="398.5" cy="537.8" rx="12" ry="1.8" fill="#000"/>
<ellipse cx="433.5" cy="538.0" rx="15.5" ry="2.8" fill="#141414" opacity="0.92"/>
</g>
<rect x="346" y="524.5" width="102.4" height="26" fill="#000" filter="url(#noise)" mask="url(#mcol2)"/>
<rect x="448.4" y="522" width="6" height="30" fill="#fff"/>
<rect x="340" y="522" width="6" height="30" fill="#fff"/>
<rect x="345.4" y="559.6" width="105.2" height="35.8" fill="url(#gtub)"/>
<g filter="url(#b1)">
<path d="M345.4 570.3 L364 570.1 C372 570.4 375 572.2 378 573.6 C381 572.7 386 572.5 395 572.5 C405 572.5 411 572.9 415.4 574.4 C419 572.6 424 572.0 432 572.0 C442 572.0 448 573.2 450.4 576.2 L450.4 577.8 C448 580.6 442 581.4 432 581.4 C424 581.4 419 581.2 415.4 580.4 C411 582.4 405 582.9 395 582.9 C386 582.9 381 582.6 378 581.6 C375 583.6 372 584.7 364 584.9 L345.4 584.3 Z" fill="#060606"/>
</g>
<line x1="578.55" y1="574.60" x2="578.55" y2="576.50" stroke="#2a2a2a" stroke-width="1.15" stroke-linecap="butt"/>
<line x1="575.05" y1="574.60" x2="582.05" y2="574.60" stroke="#161616" stroke-width="1.5" stroke-linecap="round"/>
<rect x="569.50" y="576.50" width="18.00" height="13.30" rx="0.8" fill="#b2b2b2" stroke="#555555" stroke-width="1.1"/>
<path d="M570.80 588.80 V577.80 H586.20 V588.80" fill="none" stroke="#c9c9c9" stroke-width="0.9"/>
<line x1="625.40" y1="488.40" x2="625.40" y2="498.20" stroke="#2a2a2a" stroke-width="1.15" stroke-linecap="butt"/>
<line x1="621.90" y1="488.40" x2="628.90" y2="488.40" stroke="#161616" stroke-width="1.5" stroke-linecap="round"/>
<rect x="616.50" y="498.50" width="18.00" height="91.30" rx="0.8" fill="#b2b2b2" stroke="#555555" stroke-width="1.1"/>
<path d="M617.80 588.80 V499.80 H633.20 V588.80" fill="none" stroke="#c9c9c9" stroke-width="0.9"/>
<line x1="672.85" y1="528.00" x2="672.85" y2="539.50" stroke="#2a2a2a" stroke-width="1.15" stroke-linecap="butt"/>
<line x1="669.35" y1="528.00" x2="676.35" y2="528.00" stroke="#161616" stroke-width="1.5" stroke-linecap="round"/>
<rect x="663.50" y="539.50" width="18.00" height="50.30" rx="0.8" fill="#b2b2b2" stroke="#555555" stroke-width="1.1"/>
<path d="M664.80 588.80 V540.80 H680.20 V588.80" fill="none" stroke="#c9c9c9" stroke-width="0.9"/>
<line x1="555.10" y1="460.62" x2="555.10" y2="590.67" stroke="#000" stroke-width="1.75" stroke-linecap="butt"/>
<line x1="555.10" y1="589.80" x2="696.60" y2="589.80" stroke="#000" stroke-width="1.75" stroke-linecap="butt"/>
<line x1="555.10" y1="461.50" x2="559.70" y2="461.50" stroke="#000" stroke-width="1.75" stroke-linecap="butt"/>
<g transform="translate(550.20 463.93) scale(1.08 1)">
<text x="0.00" y="0.00" font-size="15.2" font-weight="normal" text-anchor="end" fill="#141414" stroke="#141414" stroke-width="0.9">1.2</text>
</g>
<line x1="555.10" y1="483.50" x2="559.70" y2="483.50" stroke="#000" stroke-width="1.75" stroke-linecap="butt"/>
<g transform="translate(550.20 486.43) scale(1.08 1)">
<text x="0.00" y="0.00" font-size="15.2" font-weight="normal" text-anchor="end" fill="#141414" stroke="#141414" stroke-width="0.9">1</text>
</g>
<line x1="555.10" y1="504.40" x2="559.70" y2="504.40" stroke="#000" stroke-width="1.75" stroke-linecap="butt"/>
<g transform="translate(550.20 508.93) scale(1.08 1)">
<text x="0.00" y="0.00" font-size="15.2" font-weight="normal" text-anchor="end" fill="#141414" stroke="#141414" stroke-width="0.9">0.8</text>
</g>
<line x1="555.10" y1="525.80" x2="559.70" y2="525.80" stroke="#000" stroke-width="1.75" stroke-linecap="butt"/>
<g transform="translate(550.20 530.83) scale(1.08 1)">
<text x="0.00" y="0.00" font-size="15.2" font-weight="normal" text-anchor="end" fill="#141414" stroke="#141414" stroke-width="0.9">0.6</text>
</g>
<line x1="555.10" y1="546.60" x2="559.70" y2="546.60" stroke="#000" stroke-width="1.75" stroke-linecap="butt"/>
<g transform="translate(550.20 552.33) scale(1.08 1)">
<text x="0.00" y="0.00" font-size="15.2" font-weight="normal" text-anchor="end" fill="#141414" stroke="#141414" stroke-width="0.9">0.4</text>
</g>
<line x1="555.10" y1="568.10" x2="559.70" y2="568.10" stroke="#000" stroke-width="1.75" stroke-linecap="butt"/>
<g transform="translate(550.20 573.33) scale(1.08 1)">
<text x="0.00" y="0.00" font-size="15.2" font-weight="normal" text-anchor="end" fill="#141414" stroke="#141414" stroke-width="0.9">0.2</text>
</g>
<g transform="translate(550.20 592.53) scale(1.08 1)">
<text x="0.00" y="0.00" font-size="15.2" font-weight="normal" text-anchor="end" fill="#141414" stroke="#141414" stroke-width="0.9">0</text>
</g>
<line x1="601.00" y1="589.80" x2="601.00" y2="587.60" stroke="#000" stroke-width="1.2" stroke-linecap="butt"/>
<line x1="648.80" y1="589.80" x2="648.80" y2="587.60" stroke="#000" stroke-width="1.2" stroke-linecap="butt"/>
<line x1="696.60" y1="589.80" x2="696.60" y2="587.60" stroke="#000" stroke-width="1.2" stroke-linecap="butt"/>
<text x="521.60" y="600.50" font-size="14.4" font-weight="bold" text-anchor="start" fill="#141414" stroke="#141414" stroke-width="0.1" transform="rotate(-90 521.60 600.50)">Rel Col2 Protein Level</text>
<line x1="568.50" y1="481.00" x2="629.90" y2="481.00" stroke="#000" stroke-width="2.8" stroke-linecap="butt"/>
<line x1="612.70" y1="466.40" x2="674.20" y2="466.40" stroke="#000" stroke-width="2.8" stroke-linecap="butt"/>
<g transform="translate(593.10 483.75) scale(1 0.86)">
<text x="0.00" y="0.00" font-size="25.5" font-weight="normal" text-anchor="middle" fill="#0a0a0a" stroke="#0a0a0a" stroke-width="0.5">***</text>
</g>
<g transform="translate(642.40 468.65) scale(1 0.86)">
<text x="0.00" y="0.00" font-size="25.5" font-weight="normal" text-anchor="middle" fill="#0a0a0a" stroke="#0a0a0a" stroke-width="0.5">*</text>
</g>
<text x="560.50" y="614.60" font-size="15" font-weight="bold" text-anchor="end" fill="#141414" stroke="#141414" stroke-width="0.22">ghrelin</text>
<text x="562.70" y="634.00" font-size="15" font-weight="bold" text-anchor="end" fill="#141414" stroke="#141414" stroke-width="0.22">MK-2206</text>
<text x="579.50" y="617.54" font-size="12.1" font-weight="bold" text-anchor="middle" fill="#0a0a0a" stroke="#0a0a0a" stroke-width="0.65">—</text>
<text x="579.50" y="632.34" font-size="12.1" font-weight="bold" text-anchor="middle" fill="#0a0a0a" stroke="#0a0a0a" stroke-width="0.65">—</text>
<text x="628.70" y="621.78" font-size="21.5" font-weight="bold" text-anchor="middle" fill="#0a0a0a" stroke="#0a0a0a" stroke-width="0">+</text>
<text x="628.50" y="633.24" font-size="12.1" font-weight="bold" text-anchor="middle" fill="#0a0a0a" stroke="#0a0a0a" stroke-width="0.65">—</text>
<text x="674.60" y="621.38" font-size="21.5" font-weight="bold" text-anchor="middle" fill="#0a0a0a" stroke="#0a0a0a" stroke-width="0">+</text>
<text x="674.60" y="635.98" font-size="21.5" font-weight="bold" text-anchor="middle" fill="#0a0a0a" stroke="#0a0a0a" stroke-width="0">+</text>
</svg>
</body>
</html>
